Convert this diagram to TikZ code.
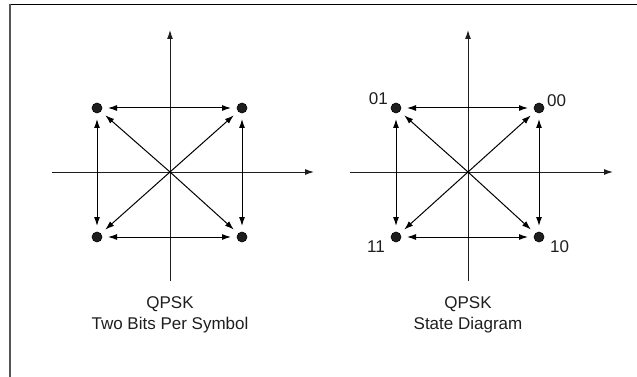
\documentclass[tikz,border=0pt]{standalone}
\usepackage{fontspec}
\setmainfont{Liberation Sans}
\usetikzlibrary{arrows.meta}
\definecolor{ink}{HTML}{1E1E1E}
\definecolor{frameleft}{HTML}{555555}
\tikzset{
  axis/.style={draw=ink, line width=1pt, -{Latex[length=9pt,width=6pt]}},
  link/.style={draw=black, line width=1pt, {Latex[length=9pt,width=6pt]}-{Latex[length=9pt,width=6pt]}},
  spoke/.style={draw=black, line width=1pt, -{Latex[length=9pt,width=6pt]}},
  dot/.style={circle, fill=ink, draw=black, line width=0.6pt, minimum size=10pt, inner sep=0pt, outer sep=6pt},
  caption/.style={text=ink, font=\fontsize{17}{20}\selectfont, inner sep=0pt},
  bits/.style={text=ink, font=\fontsize{17}{20}\selectfont, inner sep=0pt}
}
\begin{document}
\begin{tikzpicture}[x=1pt, y=-1pt]
\useasboundingbox (0,0) rectangle (637,377);
% frame
\draw[black, line width=1.5pt] (9,4.5) -- (637,4.5);
\draw[frameleft, line width=2pt] (10,4) -- (10,377);

% ---------- left diagram ----------
\coordinate (c1) at (170,172);
\coordinate (l-xs) at (52,172);
\coordinate (l-xe) at (314,172);
\coordinate (l-ys) at (170,281);
\coordinate (l-ye) at (170,30);
\draw[axis] (l-xs) -- (l-xe);
\draw[axis] (l-ys) -- (l-ye);
\node[dot] (a1) at (97,108) {};
\node[dot] (b1) at (242,108) {};
\node[dot] (d1) at (97,237) {};
\node[dot] (e1) at (242,237) {};
\draw[link] (a1) -- (b1);
\draw[link] (d1) -- (e1);
\draw[link] (a1) -- (d1);
\draw[link] (b1) -- (e1);
\draw[spoke] (c1) -- (a1);
\draw[spoke] (c1) -- (b1);
\draw[spoke] (c1) -- (d1);
\draw[spoke] (c1) -- (e1);
\node[caption, anchor=base] (t1a) at (170,308) {QPSK};
\node[caption, anchor=base] (t1b) at (170,329) {Two Bits Per Symbol};

% ---------- right diagram ----------
\coordinate (c2) at (468,172);
\coordinate (r-xs) at (350,172);
\coordinate (r-xe) at (613,172);
\coordinate (r-ys) at (468,281);
\coordinate (r-ye) at (468,30);
\draw[axis] (r-xs) -- (r-xe);
\draw[axis] (r-ys) -- (r-ye);
\node[dot] (a2) at (396,108) {};
\node[dot] (b2) at (539,108) {};
\node[dot] (d2) at (396,237) {};
\node[dot] (e2) at (539,237) {};
\draw[link] (a2) -- (b2);
\draw[link] (d2) -- (e2);
\draw[link] (a2) -- (d2);
\draw[link] (b2) -- (e2);
\draw[spoke] (c2) -- (a2);
\draw[spoke] (c2) -- (b2);
\draw[spoke] (c2) -- (d2);
\draw[spoke] (c2) -- (e2);
\node[bits, anchor=base east] (s01) at (388,105) {01};
\node[bits, anchor=base west] (s00) at (547,107) {00};
\node[bits, anchor=base east] (s11) at (385,252) {11};
\node[bits, anchor=base west] (s10) at (550,252) {10};
\node[caption, anchor=base] (t2a) at (468,308) {QPSK};
\node[caption, anchor=base] (t2b) at (468,329) {State Diagram};
\end{tikzpicture}
\end{document}
